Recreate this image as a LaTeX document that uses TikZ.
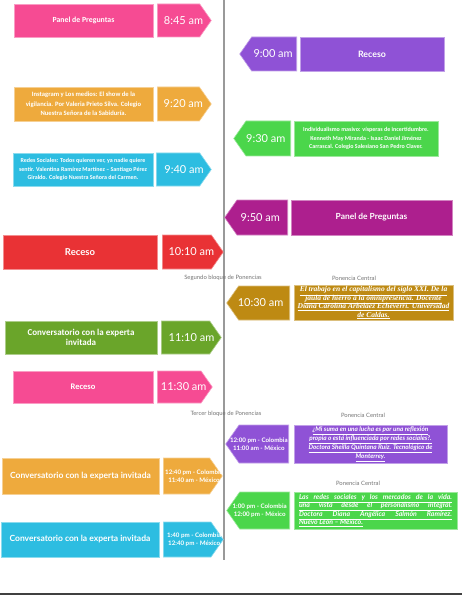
\documentclass[tikz,border=0pt]{standalone}
\usepackage{fontspec}
\setmainfont{Lato}
\newfontfamily\calfont{Carlito}
\newfontfamily\serfont{Liberation Serif}
\usetikzlibrary{shapes.symbols}

\definecolor{rosa}{HTML}{F64B93}
\definecolor{lila}{HTML}{8F52D6}
\definecolor{naranja}{HTML}{EEAA3D}
\definecolor{celeste}{HTML}{2DBDE1}
\definecolor{verde}{HTML}{4BD64B}
\definecolor{magenta}{HTML}{AD1F8E}
\definecolor{rojo}{HTML}{E93235}
\definecolor{dorado}{HTML}{BE8A13}
\definecolor{oliva}{HTML}{6AA52A}

\newcommand{\tightlines}{\lineskiplimit=-10pt\relax}
% hora centrada con un desplazamiento horizontal (el doble del corrimiento)
\newcommand{\hora}[2]{\makebox[0pt]{\hspace*{#1}#2}}

\begin{document}
\begin{tikzpicture}[
        x=1pt, y=-1pt,
        box/.style={
            rectangle,
            fill=#1,
            draw=#1!55!white,
            line width=0.6pt,
            text=white,
            inner sep=1pt,
            align=center
        },
        timeR/.style={
            signal,
            signal to=east,
            signal pointer angle=110,
            anchor=west,
            fill=#1,
            draw=#1!55!white,
            line width=0.6pt,
            text=white,
            inner sep=1pt,
            align=center,
            font=\fontsize{11}{13}\selectfont
        },
        timeL/.style={timeR=#1, signal to=west, anchor=east},
        twoline/.style={font=\bfseries\fontsize{6.2}{8.3}\selectfont},
        note/.style={text=black!55, font=\fontsize{5.9}{7}\selectfont}
    ]

    \useasboundingbox (0,0) rectangle (462,596);

    % eje central y linea inferior
    \draw[black!40, line width=1.2pt] (224,0) -- (224,560);
    \draw[black!75, line width=1.5pt] (0,594) -- (462,594);

    % columna izquierda
    \node[box=rosa, minimum width=139pt, minimum height=33pt, font=\calfont\bfseries\fontsize{7.8}{9}\selectfont] (panel1) at (83.5,20.5) {Panel de Preguntas};
    \node[timeR=rosa, minimum width=54pt, minimum height=33pt] (t0845) at (157,20.5) {\hora{10pt}{8:45 am}};

    \node[box=naranja, minimum width=139pt, minimum height=34pt, font=\calfont\bfseries\fontsize{6.6}{9.3}\selectfont] (insta) at (83.5,104) {Instagram y Los medios: El show de la\\vigilancia. Por Valeria Prieto Silva. Colegio\\Nuestra Señora de la Sabiduría.};
    \node[timeR=naranja, minimum width=54pt, minimum height=34pt] (t0920) at (157,104) {\hora{10pt}{9:20 am}};

    \node[box=celeste, minimum width=140pt, minimum height=33pt, font=\calfont\bfseries\fontsize{6}{8.3}\selectfont] (redes) at (83,169.5) {Redes Sociales: Todos quieren ver, ya nadie quiere\\sentir. Valentina Ramírez Martínez – Santiago Pérez\\Giraldo. Colegio Nuestra Señora del Carmen.};
    \node[timeR=celeste, minimum width=55pt, minimum height=33pt] (t0940) at (156,169.5) {\hora{12pt}{9:40 am}};

    \node[box=rojo, minimum width=154pt, minimum height=34pt, font=\bfseries\fontsize{9.5}{11}\selectfont] (receso2) at (80,252) {Receso};
    \node[timeR=rojo, minimum width=61pt, minimum height=34pt] (t1010) at (162,252) {\hora{9pt}{10:10 am}};

    \node[box=oliva, minimum width=152pt, minimum height=33pt, font=\calfont\bfseries\fontsize{9}{10.5}\selectfont] (charla1) at (81,337.5) {Conversatorio con la experta\\invitada};
    \node[timeR=oliva, minimum width=60pt, minimum height=33pt] (t1110) at (161,337.5) {\hora{12pt}{11:10 am}};

    \node[box=rosa, minimum width=140pt, minimum height=32pt, font=\calfont\bfseries\fontsize{8.5}{10}\selectfont] (receso3) at (83,387) {Receso};
    \node[timeR=rosa, minimum width=55pt, minimum height=32pt] (t1130) at (157,387) {\hora{9pt}{11:30 am}};

    \node[box=naranja, minimum width=157pt, minimum height=36pt, font=\bfseries\fontsize{8.5}{10}\selectfont] (charla2) at (80.5,476) {Conversatorio con la experta invitada};
    \node[timeR=naranja, minimum width=59pt, minimum height=36pt, twoline] (t1240) at (163,476) {\hora{15pt}{12:40 pm - Colombia}\\\hora{15pt}{11:40 am - México}};

    \node[box=celeste, minimum width=158pt, minimum height=35pt, font=\bfseries\fontsize{8.5}{10}\selectfont] (charla3) at (80,539.5) {Conversatorio con la experta invitada};
    \node[timeR=celeste, minimum width=60pt, minimum height=35pt, twoline] (t1340) at (163,539.5) {\hora{14pt}{1:40 pm - Colombia}\\\hora{14pt}{12:40 pm - México}};

    % columna derecha
    \node[timeL=lila, minimum width=57pt, minimum height=34pt] (t0900) at (297,54) {\hora{-2pt}{9:00 am}};
    \node[box=lila, minimum width=144pt, minimum height=34pt, font=\bfseries\fontsize{8.8}{10}\selectfont] (receso1) at (372,54) {Receso};

    \node[timeL=verde, minimum width=57pt, minimum height=35pt] (t0930) at (291,138.5) {\hora{-5pt}{9:30 am}};
    \node[box=verde, minimum width=144pt, minimum height=35pt, font=\calfont\bfseries\fontsize{6}{8.8}\selectfont] (indiv) at (366,138.5) {Individualismo masivo: vísperas de incertidumbre.\\Kenneth May Miranda - Isaac Daniel Jiménez\\Carrascal. Colegio Salesiano San Pedro Claver.};

    \node[timeL=magenta, minimum width=63pt, minimum height=35pt] (t0950) at (288,217.5) {\hora{-4pt}{9:50 am}};
    \node[box=magenta, minimum width=161pt, minimum height=35pt, font=\bfseries\fontsize{8.4}{10}\selectfont] (panel2) at (371.5,217.5) {Panel de Preguntas};

    \node[note] (bloque2) at (223,278) {Segundo bloque de Ponencias};
    \node[note] (central1) at (354,278) {Ponencia Central};

    \node[timeL=dorado, minimum width=63pt, minimum height=34pt] (t1030) at (290,303) {\hora{-7pt}{10:30 am}};
    \node[box=dorado, minimum width=159pt, minimum height=34pt, font=\serfont\bfseries\itshape\fontsize{7.5}{8.4}\selectfont\tightlines] (trabajo) at (373.5,303) {\underline{El trabajo en el capitalismo del siglo XXI. De la}\\\underline{jaula de hierro a la omnipresencia. Docente}\\\underline{Diana Carolina Arbelaez Echeverri. Universidad}\\\underline{de Caldas.}};

    \node[note] (bloque3) at (226,414) {Tercer bloque de Ponencias};
    \node[note] (central2) at (363,415) {Ponencia Central};

    \node[timeL=lila, minimum width=63pt, minimum height=38pt, twoline] (t1200) at (289,444) {\hora{-10pt}{12:00 pm - Colombia}\\\hora{-10pt}{11:00 am - México}};
    \node[box=lila, minimum width=153pt, minimum height=38pt, font=\bfseries\itshape\fontsize{6.4}{9}\selectfont\tightlines] (suma) at (370.5,444) {\underline{¿Mi suma en una lucha es por una reflexión}\\\underline{propia o está influenciada por redes sociales?.}\\\underline{Doctora Sheilla Quintana Ruiz. Tecnológico de}\\\underline{Monterrey.}};

    \node[note] (central3) at (358,483) {Ponencia Central};

    \node[timeL=verde, minimum width=63pt, minimum height=37pt, twoline] (t1300) at (290,510.5) {\hora{-10pt}{1:00 pm - Colombia}\\\hora{-10pt}{12:00 pm - México}};
    \node[box=verde, minimum width=163pt, minimum height=37pt, align=left, font=\bfseries\itshape\fontsize{6.9}{8.3}\selectfont\tightlines] (mercados) at (375.5,510.5) {\underline{\makebox[153pt][s]{Las redes sociales y los mercados de la vida.}}\\\underline{\makebox[153pt][s]{una vista desde el personalismo integral.}}\\\underline{\makebox[153pt][s]{Doctora Diana Angélica Salmón Ramírez.}}\\\underline{Nuevo León – México.}};

\end{tikzpicture}
\end{document}
